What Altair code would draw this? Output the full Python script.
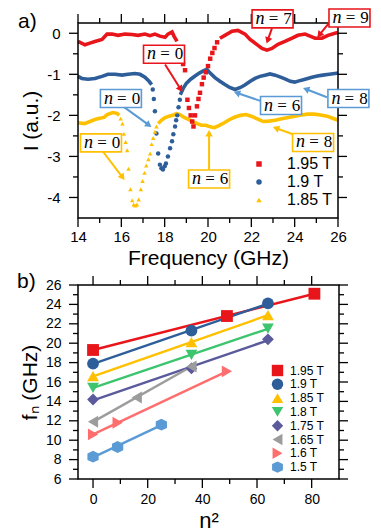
import math
import altair as alt
import pandas as pd

# ---------------- panel a data ----------------
red_line1_f = [14.0, 14.32, 14.55, 14.78, 15.11, 15.34, 15.57, 15.85, 16.17, 16.49, 16.77, 17.09, 17.32, 17.55, 17.78, 18.02, 18.15, 18.34, 18.43, 18.57]
red_line1_i = [-0.2, -0.28, -0.24, -0.2, -0.15, -0.02, -0.02, -0.05, -0.02, -0.03, -0.05, -0.02, -0.06, -0.02, -0.07, -0.1, -0.02, 0.03, -0.07, -0.2]
red_dip_f = [18.65, 18.75, 18.85, 18.94, 19.05, 19.12, 19.2, 19.27, 19.33, 19.4, 19.49, 19.56, 19.63, 19.72, 19.8, 19.9, 20.0, 20.1, 20.2, 20.3, 20.42]
red_dip_i = [-0.35, -0.55, -0.75, -0.9, -1.62, -1.82, -2.0, -2.15, -2.27, -2.0, -1.78, -1.6, -1.45, -1.24, -1.08, -0.95, -0.8, -0.62, -0.48, -0.36, -0.22]
red_line2_f = [20.55, 20.78, 21.11, 21.38, 21.71, 21.94, 22.17, 22.49, 22.72, 22.95, 23.23, 23.55, 23.88, 24.15, 24.48, 24.71, 24.94, 25.26, 25.54, 25.86, 26.0]
red_line2_i = [-0.12, -0.05, 0.05, 0.07, -0.02, -0.15, -0.24, -0.37, -0.41, -0.37, -0.27, -0.2, -0.12, -0.05, -0.02, -0.07, -0.12, -0.12, -0.05, 0.0, 0.02]

blue_line1_f = [14.0, 14.18, 14.46, 14.78, 15.11, 15.38, 15.71, 16.03, 16.31, 16.63, 16.86, 17.09, 17.28, 17.4]
blue_line1_i = [-1.05, -1.1, -1.12, -1.1, -1.05, -1.0, -1.0, -1.02, -1.0, -0.98, -1.0, -1.07, -1.17, -1.25]
blue_dip_f = [17.45, 17.5, 17.55, 17.62, 17.7, 17.78, 17.85, 17.92, 18.0, 18.06, 18.15, 18.25, 18.34, 18.4, 18.48, 18.53, 18.58, 18.64, 18.7]
blue_dip_i = [-1.37, -1.6, -1.9, -2.44, -2.93, -3.2, -3.29, -3.32, -3.24, -3.17, -3.0, -2.8, -2.63, -2.46, -2.27, -2.12, -2.0, -1.8, -1.62]
blue_line2_f = [18.72, 18.85, 19.0, 19.2, 19.4, 19.6, 19.8, 19.95, 20.1, 20.32, 20.55, 20.78, 21.0, 21.25, 21.5, 21.7, 21.95, 22.17, 22.4, 22.63, 22.86, 23.1, 23.35, 23.55, 23.8, 24.0, 24.2, 24.4, 24.6, 24.8, 25.05, 25.3, 25.6, 25.86, 26.0]
blue_line2_i = [-1.5, -1.35, -1.22, -1.12, -1.04, -0.97, -0.91, -0.88, -0.97, -1.08, -1.17, -1.25, -1.32, -1.37, -1.32, -1.26, -1.17, -1.1, -1.05, -1.02, -0.99, -1.02, -1.07, -1.11, -1.17, -1.19, -1.16, -1.13, -1.1, -1.07, -1.04, -1.02, -1.0, -0.98, -0.97]

yellow_line1_f = [14.0, 14.3, 14.55, 14.78, 15.0, 15.2, 15.35, 15.6, 15.8, 15.9]
yellow_line1_i = [-2.18, -2.2, -2.15, -2.1, -2.07, -2.05, -1.98, -1.93, -1.95, -2.0]
yellow_dip_f = [15.97, 16.05, 16.12, 16.2, 16.27, 16.33, 16.42, 16.5, 16.57, 16.64, 16.72, 16.8, 16.9, 16.98, 17.07, 17.15, 17.25, 17.33, 17.4, 17.47, 17.55, 17.62]
yellow_dip_i = [-2.08, -2.2, -2.45, -2.65, -2.85, -3.3, -3.8, -4.07, -4.17, -4.2, -4.17, -4.05, -3.8, -3.6, -3.4, -3.22, -3.07, -2.93, -2.7, -2.55, -2.4, -2.27]
yellow_line2_f = [17.7, 17.85, 18.0, 18.2, 18.4, 18.55, 18.7, 18.9, 19.1, 19.3, 19.5, 19.7, 19.9, 20.1, 20.3, 20.5, 20.75, 21.0, 21.25, 21.5, 21.75, 22.0, 22.25, 22.55, 22.8, 23.1, 23.4, 23.7, 24.0, 24.3, 24.6, 24.9, 25.2, 25.5, 25.75, 26.0]
yellow_line2_i = [-2.2, -2.12, -2.06, -2.02, -1.99, -1.96, -1.98, -2.05, -2.1, -2.15, -2.2, -2.24, -2.24, -2.28, -2.3, -2.25, -2.18, -2.1, -2.04, -2.0, -1.98, -2.02, -2.08, -2.15, -2.14, -2.12, -2.08, -2.05, -2.02, -1.99, -1.97, -1.97, -1.99, -2.02, -2.07, -2.12]

series_a = ["1.95 T", "1.9 T", "1.85 T"]
colors_a = ["#E8151B", "#2E5E99", "#FFC000"]
shapes_a = ["square", "circle", "triangle-up"]

# annotations: label digit, colour, box centre, arrow start, arrow end
ann_digit = ["0", "7", "9", "0", "6", "8", "0", "6", "8"]
ann_col = ["#E8151B", "#E8151B", "#E8151B", "#5B9BD5", "#5B9BD5", "#5B9BD5", "#FFC000", "#FFC000", "#FFC000"]
ann_cx = [17.97, 22.98, 26.53, 15.98, 23.37, 26.48, 15.06, 20.05, 24.85]
ann_cy = [-0.51, 0.35, 0.37, -1.59, -1.76, -1.59, -2.67, -3.55, -2.66]
arr_x1 = [18.02, 22.95, 25.77, 16.08, 22.49, 25.49, 15.15, 20.05, 23.92]
arr_y1 = [-0.76, 0.12, 0.37, -1.78, -1.66, -1.56, -2.88, -3.32, -2.46]
arr_x2 = [18.71, 22.77, 25.17, 17.23, 21.38, 24.57, 16.03, 20.05, 23.18]
arr_y2 = [-1.34, -0.15, -0.02, -2.22, -1.46, -1.37, -3.49, -2.46, -2.32]

# ---------------- panel b data ----------------
series_b = ["1.95 T", "1.9 T", "1.85 T", "1.8 T", "1.75 T", "1.65 T", "1.6 T", "1.5 T"]
colors_b = ["#E8151B", "#2E5E99", "#FFC000", "#3DC46E", "#5A5A9C", "#9C9C9C", "#FF6E6E", "#5B9BD5"]
hexagon = "M0,-1L0.95,-0.55L0.95,0.55L0,1L-0.95,0.55L-0.95,-0.55Z"
shapes_b = ["square", "circle", "triangle-up", "triangle-down", "diamond", "triangle-left", "triangle-right", hexagon]
n2_b = [[0, 49, 81], [0, 36, 64], [0, 36, 64], [0, 36, 64], [0, 36, 64], [0, 16, 36], [0, 9, 49], [0, 9, 25]]
f_b = [[19.3, 22.8, 25.1], [17.9, 21.3, 24.1], [16.6, 20.1, 22.9], [15.4, 18.8, 21.5],
       [14.2, 17.4, 20.4], [11.9, 14.4, 17.6], [10.6, 11.8, 17.1], [8.3, 9.3, 11.6]]

# ---------------- build tables ----------------
rows = []
for s, c, segs in [
    ("1.95 T", colors_a[0], [(red_line1_f, red_line1_i), (red_line2_f, red_line2_i)]),
    ("1.9 T", colors_a[1], [(blue_line1_f, blue_line1_i), (blue_line2_f, blue_line2_i)]),
    ("1.85 T", colors_a[2], [(yellow_line1_f, yellow_line1_i), (yellow_line2_f, yellow_line2_i)]),
]:
    for k, (ff, ii) in enumerate(segs):
        for f, i in zip(ff, ii):
            rows.append({"f": f, "I": i, "series": s, "col": c, "seg": f"{s}-{k}"})
lines_a = pd.DataFrame(rows)

rows = []
for s, ff, ii in [("1.95 T", red_dip_f, red_dip_i), ("1.9 T", blue_dip_f, blue_dip_i), ("1.85 T", yellow_dip_f, yellow_dip_i)]:
    for f, i in zip(ff, ii):
        rows.append({"f": f, "I": i, "series": s})
dots_a = pd.DataFrame(rows)

WA, HA = 260, 195
WB, HB = 261, 194
PXA = WA / 12.0
PYA = HA / 4.75
HW = 20.5 / PXA
HH = 9.0 / PYA


def head_angle(x1, y1, x2, y2):
    dx = (x2 - x1) * PXA
    dy = -(y2 - y1) * PYA
    return math.degrees(math.atan2(dx, -dy)) % 360


ann = pd.DataFrame({
    "digit": ann_digit, "col": ann_col, "cx": ann_cx, "cy": ann_cy,
    "bx1": [c - HW for c in ann_cx], "bx2": [c + HW for c in ann_cx],
    "by1": [c - HH for c in ann_cy], "by2": [c + HH for c in ann_cy],
    "ax1": arr_x1, "ay1": arr_y1, "ax2": arr_x2, "ay2": arr_y2,
    "ang": [head_angle(a, b, c, d) for a, b, c, d in zip(arr_x1, arr_y1, arr_x2, arr_y2)],
    "ntxt": ["n"] * len(ann_digit), "eq": ["="] * len(ann_digit),
})

rows = []
for s, c, xs, ys in zip(series_b, colors_b, n2_b, f_b):
    for x, y in zip(xs, ys):
        rows.append({"n2": x, "f": y, "series": s, "col": c})
data_b = pd.DataFrame(rows)

FONT = "Liberation Sans"
AX = dict(domain=False, grid=False, ticks=False, labelColor="black", labelFont=FONT, titleFont=FONT,
          titleFontWeight="normal", titleColor="black", labelOverlap=False, labelFlush=False)


def frame_layers(xs, ys, W, H, xmaj, xmin, ymaj, ymin, LM=9, Lm=5):
    """Box round the plot plus major/minor ticks on all four sides, drawn as rules."""
    out = [alt.Chart(pd.DataFrame({"k": [0]})).mark_rect(
        fillOpacity=0, stroke="black", strokeWidth=1.5).encode(
        x=alt.value(0), x2=alt.value(W), y=alt.value(0), y2=alt.value(H))]
    for vals, L in ((xmaj, LM), (xmin, Lm)):
        d = pd.DataFrame({"v": vals})
        for y1, y2 in ((H, H + L), (0, -L)):
            out.append(alt.Chart(d).mark_rule(color="black", strokeWidth=1.3).encode(
                x=alt.X("v:Q", scale=xs, axis=None), y=alt.value(y1), y2=alt.value(y2)))
    for vals, L in ((ymaj, LM), (ymin, Lm)):
        d = pd.DataFrame({"v": vals})
        for x1, x2 in ((0, -L), (W, W + L)):
            out.append(alt.Chart(d).mark_rule(color="black", strokeWidth=1.3).encode(
                y=alt.Y("v:Q", scale=ys, axis=None), x=alt.value(x1), x2=alt.value(x2)))
    return out


# ---------------- panel a ----------------
xs_a = alt.Scale(domain=[14, 26], nice=False, zero=False)
ys_a = alt.Scale(domain=[-4.5, 0.25], nice=False, zero=False)
xmaj_a = [14, 16, 18, 20, 22, 24, 26]
xmin_a = [15, 17, 19, 21, 23, 25]
ymaj_a = [-4, -3, -2, -1, 0]
ymin_a = [-3.5, -2.5, -1.5, -0.5]

xmain_a = alt.Axis(orient="bottom", values=xmaj_a, labelFontSize=15, labelPadding=11,
                   title="Frequency (GHz)", titleFontSize=21, titleY=46, titleBaseline="alphabetic", **AX)
ymain_a = alt.Axis(orient="left", values=ymaj_a, labelPadding=18, labelFontSize=15,
                   labelExpr="'' + datum.value", title="I (a.u.)", titleFontSize=21, titleX=-41,
                   titleY=HA / 2, titleAngle=270, titleBaseline="alphabetic", titleAlign="center", **AX)

lines_layer = alt.Chart(lines_a).mark_line(strokeWidth=3.6).encode(
    x=alt.X("f:Q", scale=xs_a, axis=xmain_a), y=alt.Y("I:Q", scale=ys_a, axis=ymain_a),
    stroke=alt.Stroke("col:N", scale=None), detail="seg:N", order="f:Q")

leg_a = dict(orient="none", legendX=173, legendY=133, title=None, labelFontSize=16, labelFont=FONT,
             labelColor="black", symbolSize=30, rowPadding=2, labelOffset=20)
dots_layer = alt.Chart(dots_a).mark_point(filled=True, size=20, opacity=1).encode(
    x=alt.X("f:Q", scale=xs_a, axis=None), y=alt.Y("I:Q", scale=ys_a, axis=None),
    color=alt.Color("series:N", scale=alt.Scale(domain=series_a, range=colors_a), legend=alt.Legend(**leg_a)),
    shape=alt.Shape("series:N", scale=alt.Scale(domain=series_a, range=shapes_a), legend=alt.Legend(**leg_a)))

arrows = alt.Chart(ann).mark_rule(strokeWidth=2).encode(
    x=alt.X("ax1:Q", scale=xs_a, axis=None), y=alt.Y("ay1:Q", scale=ys_a, axis=None),
    x2="ax2:Q", y2="ay2:Q", stroke=alt.Stroke("col:N", scale=None))
heads = alt.Chart(ann).mark_point(shape="triangle", filled=True, size=55, opacity=1).encode(
    x=alt.X("ax2:Q", scale=xs_a, axis=None), y=alt.Y("ay2:Q", scale=ys_a, axis=None),
    angle=alt.Angle("ang:Q", scale=None), fill=alt.Fill("col:N", scale=None))
boxes = alt.Chart(ann).mark_rect(fill="white", strokeWidth=1.6).encode(
    x=alt.X("bx1:Q", scale=xs_a, axis=None), x2="bx2:Q",
    y=alt.Y("by1:Q", scale=ys_a, axis=None), y2="by2:Q", stroke=alt.Stroke("col:N", scale=None))
txt_n = alt.Chart(ann).mark_text(font="Liberation Serif", fontStyle="italic", fontSize=18,
                                 align="right", baseline="middle", dx=-8, color="black").encode(
    x=alt.X("cx:Q", scale=xs_a, axis=None), y=alt.Y("cy:Q", scale=ys_a, axis=None), text="ntxt:N")
txt_eq = alt.Chart(ann).mark_text(font="Liberation Serif", fontSize=17, align="center",
                                  baseline="middle", dx=1, color="black").encode(
    x=alt.X("cx:Q", scale=xs_a, axis=None), y=alt.Y("cy:Q", scale=ys_a, axis=None), text="eq:N")
txt_d = alt.Chart(ann).mark_text(font="Liberation Serif", fontSize=17, align="center",
                                 baseline="middle", dx=15, color="black").encode(
    x=alt.X("cx:Q", scale=xs_a, axis=None), y=alt.Y("cy:Q", scale=ys_a, axis=None), text="digit:N")
lab_a = alt.Chart(pd.DataFrame({"t": ["a)"]})).mark_text(
    fontSize=21, font=FONT, align="left", baseline="top", color="black").encode(
    x=alt.value(-60), y=alt.value(-12), text="t:N")

panel_a = alt.layer(
    lines_layer, dots_layer,
    *frame_layers(xs_a, ys_a, WA, HA, xmaj_a, xmin_a, ymaj_a, ymin_a),
    arrows, heads, boxes, txt_n, txt_eq, txt_d, lab_a
).resolve_axis(x="independent", y="independent").properties(width=WA, height=HA)

# ---------------- panel b ----------------
xs_b = alt.Scale(domain=[-5.5, 90], nice=False, zero=False)
ys_b = alt.Scale(domain=[6, 26], nice=False, zero=False)
xmaj_b = [0, 20, 40, 60, 80]
xmin_b = [10, 30, 50, 70]
ymaj_b = list(range(6, 27, 2))
ymin_b = list(range(7, 26, 2))

xmain_b = alt.Axis(orient="bottom", values=xmaj_b, labelFontSize=14, labelPadding=13,
                   title="n²", titleFontSize=22, titleY=48, titleBaseline="alphabetic", **AX)
ymain_b = alt.Axis(orient="left", values=ymaj_b, labelPadding=17, labelFontSize=14,
                   title="fₙ (GHz)", titleFontSize=21, titleX=-42, titleY=HB / 2, titleAngle=270,
                   titleBaseline="alphabetic", titleAlign="center", **AX)

fit_b = alt.Chart(data_b).transform_regression("n2", "f", groupby=["series", "col"]).mark_line(strokeWidth=2.4).encode(
    x=alt.X("n2:Q", scale=xs_b, axis=xmain_b), y=alt.Y("f:Q", scale=ys_b, axis=ymain_b),
    stroke=alt.Stroke("col:N", scale=None), detail="series:N")

leg_b = dict(orient="none", legendX=193, legendY=79, title=None, labelFontSize=12, labelFont=FONT,
             labelColor="black", symbolSize=130, rowPadding=0.8, labelOffset=6)
pts_b = alt.Chart(data_b).mark_point(filled=True, size=140, opacity=1).encode(
    x=alt.X("n2:Q", scale=xs_b, axis=None), y=alt.Y("f:Q", scale=ys_b, axis=None),
    color=alt.Color("series:N", scale=alt.Scale(domain=series_b, range=colors_b), legend=alt.Legend(**leg_b)),
    shape=alt.Shape("series:N", scale=alt.Scale(domain=series_b, range=shapes_b), legend=alt.Legend(**leg_b)))
lab_b = alt.Chart(pd.DataFrame({"t": ["b)"]})).mark_text(
    fontSize=21, font=FONT, align="left", baseline="top", color="black").encode(
    x=alt.value(-61), y=alt.value(-14), text="t:N")

panel_b = alt.layer(
    fit_b, pts_b,
    *frame_layers(xs_b, ys_b, WB, HB, xmaj_b, xmin_b, ymaj_b, ymin_b),
    lab_b
).resolve_axis(x="independent", y="independent").properties(width=WB, height=HB)

chart = alt.vconcat(panel_a, panel_b, spacing=67, bounds="flush").resolve_scale(
    color="independent", shape="independent", stroke="independent", fill="independent",
    x="independent", y="independent"
).resolve_legend(color="independent", shape="independent").properties(
    padding={"left": 9, "top": 0, "right": 0, "bottom": 0}
).configure(font=FONT, view=alt.ViewConfig(stroke=None))

chart.save("out.html", embed_options={"renderer": "svg", "actions": False})
